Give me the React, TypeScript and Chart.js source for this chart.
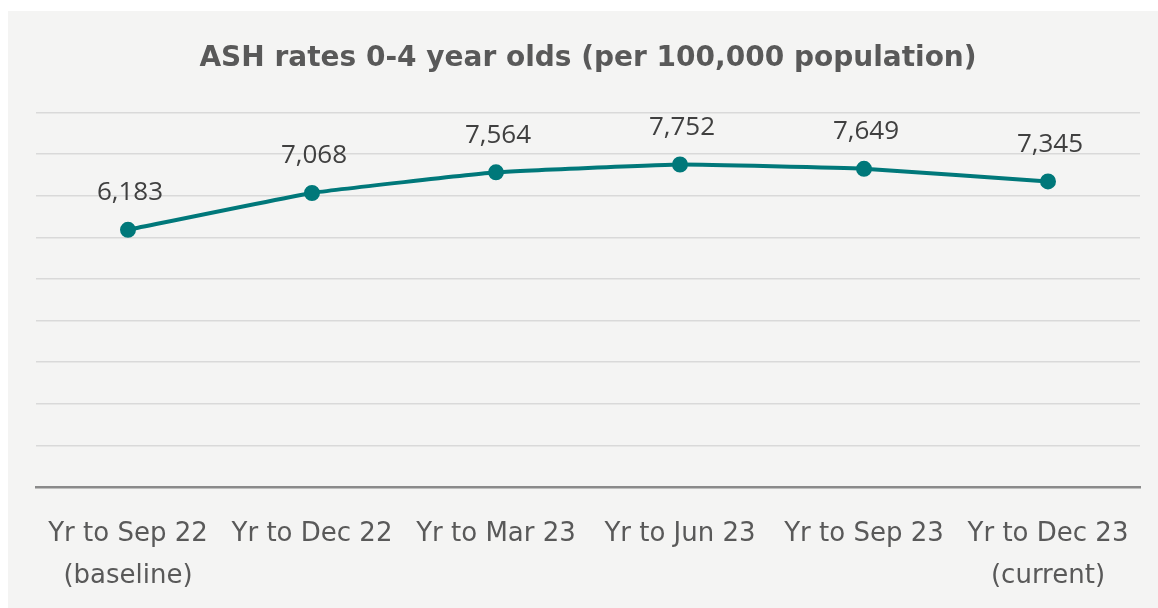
import React, { useEffect, useRef } from "react";
import { Chart, registerables } from "chart.js";

Chart.register(...registerables);

const categories: string[][] = [
  ["Yr to Sep 22", "(baseline)"],
  ["Yr to Dec 22"],
  ["Yr to Mar 23"],
  ["Yr to Jun 23"],
  ["Yr to Sep 23"],
  ["Yr to Dec 23", "(current)"],
];
const rates: number[] = [6183, 7068, 7564, 7752, 7649, 7345];
const titleText = "ASH rates 0-4 year olds (per 100,000 population)";

const FONT = "'DejaVu Sans', 'Noto Sans', sans-serif";
const LABEL_FONT = "'Open Sans', 'Noto Sans', sans-serif";

const panelPlugin = {
  id: "panel",
  beforeDraw(chart: any) {
    const ctx = chart.ctx;
    ctx.save();
    ctx.fillStyle = "#ffffff";
    ctx.fillRect(0, 0, chart.width, chart.height);
    ctx.fillStyle = "#f4f4f3";
    ctx.fillRect(8, 11, chart.width - 8, chart.height - 11);
    ctx.restore();
  },
};

const labelPlugin = {
  id: "valueLabels",
  afterDatasetsDraw(chart: any) {
    const ctx = chart.ctx;
    const meta = chart.getDatasetMeta(0);
    ctx.save();
    ctx.fillStyle = "#404040";
    ctx.font = `26px ${LABEL_FONT}`;
    ctx.textAlign = "center";
    ctx.textBaseline = "middle";
    meta.data.forEach((pt: any, i: number) => {
      const v = chart.data.datasets[0].data[i] as number;
      ctx.fillText(v.toLocaleString("en-US"), pt.x + 2, pt.y - 37);
    });
    ctx.restore();
  },
};

export default function App() {
  const ref = useRef<HTMLCanvasElement | null>(null);
  useEffect(() => {
    document.body.style.margin = "0";
    const chart = new Chart(ref.current as HTMLCanvasElement, {
      type: "line",
      data: {
        labels: categories,
        datasets: [
          {
            data: rates,
            borderColor: "#00787a",
            backgroundColor: "#00787a",
            borderWidth: 4,
            pointRadius: 6,
            pointHoverRadius: 6,
            tension: 0.1,
          },
        ],
      },
      options: {
        responsive: false,
        animation: false,
        layout: { padding: { left: 36, right: 18, top: 0, bottom: 0 } },
        plugins: {
          legend: { display: false },
          tooltip: { enabled: false },
          title: {
            display: true,
            text: titleText,
            color: "#595959",
            font: { family: FONT, size: 28, weight: "bold", lineHeight: 1.2 },
            padding: { top: 42, bottom: 37 },
          },
        },
        scales: {
          x: {
            offset: true,
            grid: { display: false },
            border: { display: true, color: "#8a8a8a", width: 2.5 },
            afterFit(scale: any) {
              scale.height = 121;
            },
            ticks: {
              color: "#595959",
              font: { family: FONT, size: 26, lineHeight: 1.615 },
              padding: 18,
              maxRotation: 0,
              autoSkip: false,
            },
          },
          y: {
            min: 0,
            max: 9000,
            ticks: { display: false, stepSize: 1000 },
            border: { display: false },
            grid: { color: "#d9d9d9", lineWidth: 1.5, drawTicks: false },
          },
        },
      },
      plugins: [panelPlugin, labelPlugin],
    });
    return () => chart.destroy();
  }, []);
  return <canvas ref={ref} width={1158} height={608} style={{ display: "block" }} />;
}
